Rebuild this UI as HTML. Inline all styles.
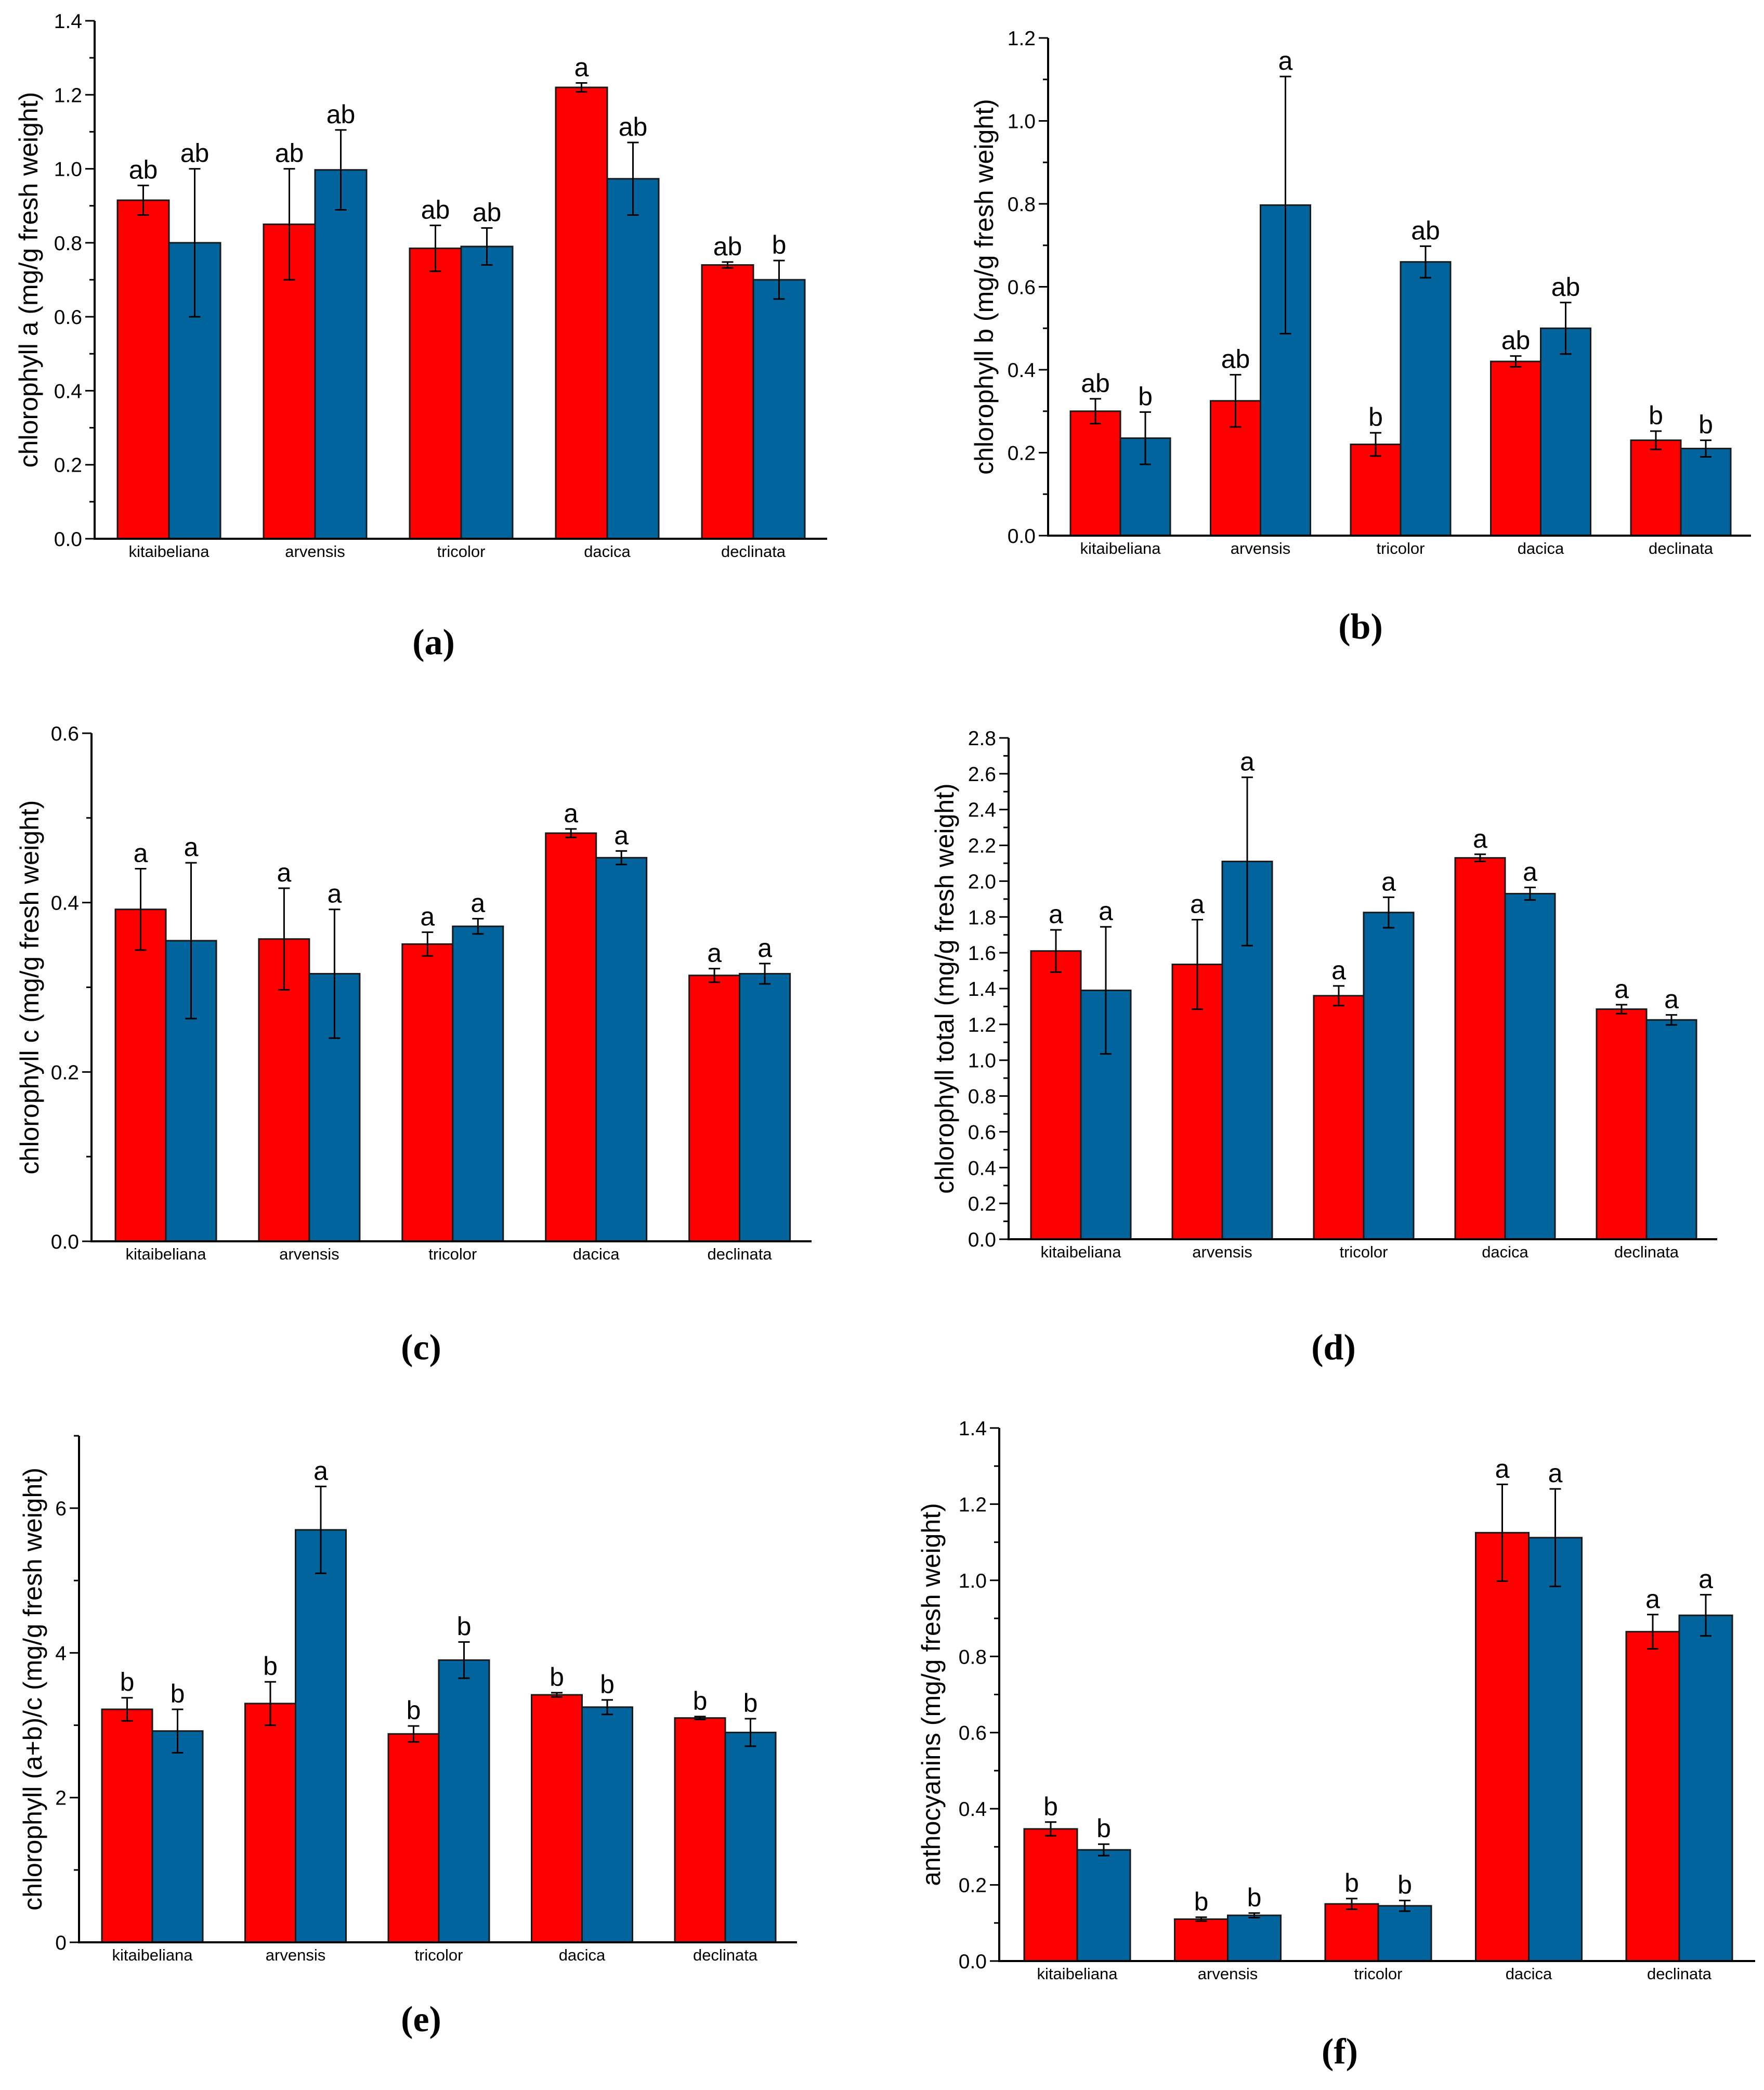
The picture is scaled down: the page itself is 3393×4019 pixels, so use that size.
<!DOCTYPE html>
<html><head><meta charset="utf-8"><style>
html,body{margin:0;padding:0;background:#fff}
svg{display:block}
text{font-family:"Liberation Sans",Arial,sans-serif;fill:#000}
.cap{font-family:"Liberation Serif",serif;font-weight:bold}
</style></head><body>
<svg id="fig" width="3393" height="4019" viewBox="0 0 3393 4019" xmlns="http://www.w3.org/2000/svg"></svg>
<script>
const categories = ["kitaibeliana","arvensis","tricolor","dacica","declinata"];
const aRed=[0.915,0.85,0.785,1.22,0.74], aRedErr=[0.04,0.15,0.062,0.012,0.008];
const aBlue=[0.80,0.997,0.79,0.973,0.70], aBlueErr=[0.2,0.108,0.05,0.098,0.052];
const aRedLet=["ab","ab","ab","a","ab"], aBlueLet=["ab","ab","ab","ab","b"];
const bRed=[0.30,0.325,0.22,0.42,0.23], bRedErr=[0.03,0.063,0.028,0.013,0.022];
const bBlue=[0.235,0.797,0.66,0.50,0.21], bBlueErr=[0.063,0.31,0.038,0.062,0.02];
const bRedLet=["ab","ab","b","ab","b"], bBlueLet=["b","a","ab","ab","b"];
const cRed=[0.392,0.357,0.351,0.482,0.314], cRedErr=[0.048,0.06,0.014,0.005,0.008];
const cBlue=[0.355,0.316,0.372,0.453,0.316], cBlueErr=[0.092,0.076,0.009,0.008,0.012];
const cRedLet=["a","a","a","a","a"], cBlueLet=["a","a","a","a","a"];
const dRed=[1.61,1.535,1.36,2.13,1.285], dRedErr=[0.118,0.25,0.055,0.02,0.025];
const dBlue=[1.39,2.11,1.825,1.93,1.225], dBlueErr=[0.355,0.47,0.085,0.035,0.028];
const dRedLet=["a","a","a","a","a"], dBlueLet=["a","a","a","a","a"];
const eRed=[3.22,3.3,2.88,3.42,3.1], eRedErr=[0.16,0.3,0.11,0.03,0.02];
const eBlue=[2.92,5.7,3.9,3.25,2.9], eBlueErr=[0.3,0.6,0.25,0.1,0.19];
const eRedLet=["b","b","b","b","b"], eBlueLet=["b","a","b","b","b"];
const fRed=[0.347,0.11,0.15,1.125,0.865], fRedErr=[0.018,0.005,0.014,0.127,0.045];
const fBlue=[0.292,0.12,0.145,1.112,0.908], fBlueErr=[0.015,0.006,0.014,0.128,0.054];
const fRedLet=["b","b","b","a","a"], fBlueLet=["b","b","b","a","a"];
const aTicks=[0,0.2,0.4,0.6,0.8,1.0,1.2,1.4];
const bTicks=[0,0.2,0.4,0.6,0.8,1.0,1.2];
const cTicks=[0,0.2,0.4,0.6];
const dTicks=[0,0.2,0.4,0.6,0.8,1.0,1.2,1.4,1.6,1.8,2.0,2.2,2.4,2.6,2.8];
const eTicks=[0,2,4,6];
const fTicks=[0,0.2,0.4,0.6,0.8,1.0,1.2,1.4];

const NS="http://www.w3.org/2000/svg";
const svg=document.getElementById('fig');
function mk(tag,attrs,parent){const e=document.createElementNS(NS,tag);for(const k in attrs)e.setAttribute(k,attrs[k]);(parent||svg).appendChild(e);return e;}

function panel(p){
  const g=mk('g',{});
  
  
  const y=v=>p.y0-(v-0)/(p.max)*(p.y0-p.yTop);
  const xc=i=>p.c0+i*p.sp;
  for(let i=0;i<categories.length;i++){
    [[p.red,p.redErr,p.redLet,'#ff0000',-1,'red'],[p.blue,p.blueErr,p.blueLet,'#02649c',0,'blue']].forEach(s=>{
      const v=s[0][i],er=s[1][i];const x0=xc(i)+s[4]*p.bw;
      const r=mk('rect',{x:x0,y:y(v),width:p.bw,height:p.y0-y(v),fill:s[3],stroke:'#1a1a1a','stroke-width':3},g);
      
      
      const cx=x0+p.bw/2;
      const eb=mk('path',{d:`M${cx},${y(v+er)}V${y(v-er)}M${cx-11},${y(v+er)}H${cx+11}M${cx-11},${y(v-er)}H${cx+11}`,stroke:'#000','stroke-width':3,fill:'none'},g);
      
      
      const t=mk('text',{x:cx,y:y(v+er)-13,'text-anchor':'middle','font-size':50},g);
      t.textContent=s[2][i];
      
      
    });
    const cl=mk('text',{x:xc(i),y:p.y0+35,'text-anchor':'middle','font-size':31},g);
    cl.textContent=categories[i];
    
    
  }
  const ax=mk('path',{d:`M${p.ax},${p.yTop}V${p.y0}H${p.xEnd}`,stroke:'#000','stroke-width':4,fill:'none'},g);
  
  
  p.ticks.forEach(t=>{
    mk('line',{x1:p.ax-18,x2:p.ax,y1:y(t),y2:y(t),stroke:'#000','stroke-width':3},g);
    const tl=mk('text',{x:p.ax-24,y:y(t)+14,'text-anchor':'end','font-size':39},g);
    tl.textContent=p.fmt(t);
    
    
  });
  for(let k=0;k<p.ticks.length;k++){
    const a=p.ticks[k], b=k+1<p.ticks.length?p.ticks[k+1]:null;
    if(b!==null && p.minor) mk('line',{x1:p.ax-10,x2:p.ax,y1:y((a+b)/2),y2:y((a+b)/2),stroke:'#000','stroke-width':3},g);
  }
  if(p.extraTop) mk('line',{x1:p.ax-10,x2:p.ax,y1:y(p.max),y2:y(p.max),stroke:'#000','stroke-width':3},g);
  const ty=(p.y0+p.yTop)/2;
  const yt=mk('text',{x:p.tx,y:ty,'text-anchor':'middle','font-size':50,transform:`rotate(-90 ${p.tx} ${ty})`},g);
  yt.textContent=p.title;
  
  
  const cap=mk('text',{x:p.capX,y:p.capY,'text-anchor':'middle','font-size':70,class:'cap'},g);
  cap.textContent='('+p.id+')';
  
  
}
const f1=t=>t.toFixed(1), f0=t=>t.toFixed(0);
panel({id:'a',red:aRed,redErr:aRedErr,blue:aBlue,blueErr:aBlueErr,redLet:aRedLet,blueLet:aBlueLet,ticks:aTicks,max:1.4,fmt:f1,minor:true,
  ax:182,y0:1036,yTop:40,xEnd:1591,c0:325,sp:281,bw:99,tx:72,title:'chlorophyll a (mg/g fresh weight)',capX:834,capY:1258});
panel({id:'b',red:bRed,redErr:bRedErr,blue:bBlue,blueErr:bBlueErr,redLet:bRedLet,blueLet:bBlueLet,ticks:bTicks,max:1.2,fmt:f1,minor:true,
  ax:2016,y0:1030,yTop:73,xEnd:3368,c0:2155,sp:269.5,bw:96,tx:1910,title:'chlorophyll b (mg/g fresh weight)',capX:2617,capY:1228});
panel({id:'c',red:cRed,redErr:cRedErr,blue:cBlue,blueErr:cBlueErr,redLet:cRedLet,blueLet:cBlueLet,ticks:cTicks,max:0.6,fmt:f1,minor:true,
  ax:176,y0:2387,yTop:1410,xEnd:1561,c0:319,sp:275.9,bw:97,tx:74,title:'chlorophyll c (mg/g fresh weight)',capX:810,capY:2614});
panel({id:'d',red:dRed,redErr:dRedErr,blue:dBlue,blueErr:dBlueErr,redLet:dRedLet,blueLet:dBlueLet,ticks:dTicks,max:2.8,fmt:f1,minor:true,
  ax:1940,y0:2383,yTop:1419,xEnd:3303,c0:2079,sp:272,bw:96,tx:1834,title:'chlorophyll total (mg/g fresh weight)',capX:2565,capY:2614});
panel({id:'e',red:eRed,redErr:eRedErr,blue:eBlue,blueErr:eBlueErr,redLet:eRedLet,blueLet:eBlueLet,ticks:eTicks,max:7,fmt:f0,minor:true,extraTop:true,
  ax:152,y0:3735,yTop:2761,xEnd:1533,c0:293,sp:275.5,bw:97,tx:80,title:'chlorophyll (a+b)/c (mg/g fresh weight)',capX:810,capY:3906});
panel({id:'f',red:fRed,redErr:fRedErr,blue:fBlue,blueErr:fBlueErr,redLet:fRedLet,blueLet:fBlueLet,ticks:fTicks,max:1.4,fmt:f1,minor:true,
  ax:1922,y0:3771,yTop:2746,xEnd:3376,c0:2072,sp:289.5,bw:102,tx:1808,title:'anthocyanins (mg/g fresh weight)',capX:2577,capY:3968});
</script>
</body></html>
